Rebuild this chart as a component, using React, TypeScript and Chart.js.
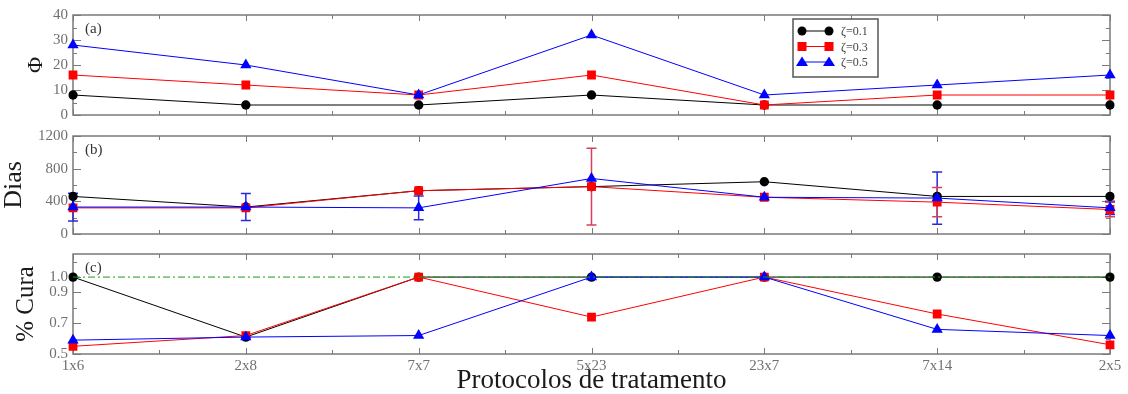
import React, { useEffect, useRef } from 'react';
import { Chart, registerables } from 'chart.js';

Chart.register(...registerables);

// ---------- data ----------
const protocols = ['1x6', '2x8', '7x7', '5x23', '23x7', '7x14', '2x5'];
const seriesLabels = ['ζ=0.1', 'ζ=0.3', 'ζ=0.5'];

const phi01 = [8, 4, 4, 8, 4, 4, 4];
const phi03 = [16, 12, 8, 16, 4, 8, 8];
const phi05 = [28, 20, 8, 32, 8, 12, 16];

const dias01 = [460, 330, 530, 580, 640, 460, 460];
const dias03 = [320, 320, 530, 580, 450, 390, 300];
const dias05 = [330, 330, 320, 680, 450, 440, 320];
const dias03Err = [0, 0, 0, 470, 0, 180, 90];
const dias05Err = [170, 165, 145, 0, 0, 320, 80];

const cura01 = [1.0, 0.61, 1.0, 1.0, 1.0, 1.0, 1.0];
const cura03 = [0.55, 0.62, 1.0, 0.74, 1.0, 0.76, 0.56];
const cura05 = [0.59, 0.61, 0.62, 1.0, 1.0, 0.66, 0.62];
const curaRef = [1, 1, 1, 1, 1, 1, 1];

const phiTicks = [0, 10, 20, 30, 40];
const phiMinor = [5, 15, 25, 35];
const diasTicks = [0, 400, 800, 1200];
const diasMinor = [200, 600, 1000];
const curaTicks = [0.5, 0.7, 0.9, 1.0];
const curaMinor = [0.6, 0.8, 1.1];

// ---------- style ----------
const SERIF = "'Liberation Serif', 'DejaVu Serif', serif";
const BLACK = '#000000';
const RED = '#ff0000';
const BLUE = '#0000ff';
const GREEN = '#1a9a1a';
const FRAME = '#7a7a7a';
const TICKCOL = '#707070';

function lineDs(label: string, data: number[], color: string, style: string, radius: number, extra: any = {}) {
  return {
    label,
    data,
    borderColor: color,
    backgroundColor: color,
    borderWidth: 1,
    pointStyle: style,
    pointRadius: radius,
    pointBackgroundColor: color,
    pointBorderColor: color,
    pointBorderWidth: 0,
    tension: 0,
    ...extra,
  };
}

function seriesSet(d01: number[], d03: number[], d05: number[], e03?: number[], e05?: number[]) {
  return [
    lineDs(seriesLabels[2], d05, BLUE, 'triangle', 6.5, { errors: e05, errColor: '#2a2ad8' }),
    lineDs(seriesLabels[1], d03, RED, 'rect', 6.2, { errors: e03, errColor: '#d84058' }),
    lineDs(seriesLabels[0], d01, BLACK, 'circle', 4.7),
  ];
}

function framePlugin(yMajor: number[], yMinor: number[], label: string) {
  return {
    id: 'frameTicks',
    beforeDatasetsDraw(chart: any) {
      const { ctx, chartArea: a, scales } = chart;
      const xs = scales.x;
      const ys = scales.y;
      ctx.save();
      ctx.strokeStyle = FRAME;
      ctx.lineWidth = 1;
      ctx.beginPath();
      const hTick = (v: number, len: number) => {
        const py = Math.round(ys.getPixelForValue(v)) + 0.5;
        ctx.moveTo(a.left, py);
        ctx.lineTo(a.left + len, py);
        ctx.moveTo(a.right, py);
        ctx.lineTo(a.right - len, py);
      };
      yMajor.forEach((v) => hTick(v, 8));
      yMinor.forEach((v) => hTick(v, 4));
      const vTick = (px: number, len: number) => {
        const x = Math.round(px) + 0.5;
        ctx.moveTo(x, a.top);
        ctx.lineTo(x, a.top + len);
        ctx.moveTo(x, a.bottom);
        ctx.lineTo(x, a.bottom - len);
      };
      for (let i = 0; i < protocols.length; i++) vTick(xs.getPixelForValue(i), 6);
      for (let i = 0; i < protocols.length - 1; i++) {
        vTick((xs.getPixelForValue(i) + xs.getPixelForValue(i + 1)) / 2, 4);
      }
      ctx.stroke();
      ctx.lineWidth = 1.5;
      ctx.strokeRect(a.left, a.top, a.right - a.left, a.bottom - a.top);
      ctx.fillStyle = '#333';
      ctx.font = `15px ${SERIF}`;
      ctx.textBaseline = 'middle';
      ctx.textAlign = 'left';
      ctx.fillText(label, a.left + 12, a.top + 14);
      ctx.restore();
    },
  };
}

const errorBarsPlugin = {
  id: 'errorBars',
  beforeDatasetsDraw(chart: any) {
    const { ctx } = chart;
    const ys = chart.scales.y;
    ctx.save();
    chart.data.datasets.forEach((ds: any, di: number) => {
      if (!ds.errors) return;
      const meta = chart.getDatasetMeta(di);
      ctx.strokeStyle = ds.errColor;
      ctx.lineWidth = 1.5;
      ds.errors.forEach((e: number, j: number) => {
        if (!e) return;
        const pt = meta.data[j];
        const y1 = ys.getPixelForValue(ds.data[j] + e);
        const y2 = ys.getPixelForValue(ds.data[j] - e);
        ctx.beginPath();
        ctx.moveTo(pt.x, y1);
        ctx.lineTo(pt.x, y2);
        ctx.moveTo(pt.x - 5, y1);
        ctx.lineTo(pt.x + 5, y1);
        ctx.moveTo(pt.x - 5, y2);
        ctx.lineTo(pt.x + 5, y2);
        ctx.stroke();
      });
    });
    ctx.restore();
  },
};

const legendPlugin = {
  id: 'boxLegend',
  afterDatasetsDraw(chart: any) {
    const { ctx, chartArea: a } = chart;
    const bx = a.left + 720;
    const by = a.top + 4;
    const bw = 85;
    const bh = 58;
    ctx.save();
    ctx.fillStyle = '#ffffff';
    ctx.fillRect(bx, by, bw, bh);
    ctx.strokeStyle = '#555';
    ctx.lineWidth = 1.5;
    ctx.strokeRect(bx, by, bw, bh);
    const items = [
      { label: seriesLabels[0], color: BLACK, shape: 'circle' },
      { label: seriesLabels[1], color: RED, shape: 'rect' },
      { label: seriesLabels[2], color: BLUE, shape: 'triangle' },
    ];
    items.forEach((it, i) => {
      const cy = by + 12 + i * 15.5;
      const x1 = bx + 9;
      const x2 = bx + 36;
      ctx.strokeStyle = it.color;
      ctx.lineWidth = 1;
      ctx.beginPath();
      ctx.moveTo(x1, cy);
      ctx.lineTo(x2, cy);
      ctx.stroke();
      ctx.fillStyle = it.color;
      [x1, x2].forEach((mx) => {
        ctx.beginPath();
        if (it.shape === 'circle') {
          ctx.arc(mx, cy, 4.5, 0, Math.PI * 2);
        } else if (it.shape === 'rect') {
          ctx.rect(mx - 4.5, cy - 4.5, 9, 9);
        } else {
          ctx.moveTo(mx, cy - 5.5);
          ctx.lineTo(mx + 6, cy + 4);
          ctx.lineTo(mx - 6, cy + 4);
          ctx.closePath();
        }
        ctx.fill();
      });
      ctx.fillStyle = '#444';
      ctx.font = `12px ${SERIF}`;
      ctx.textAlign = 'left';
      ctx.textBaseline = 'middle';
      ctx.fillText(it.label, bx + 48, cy + 1);
    });
    ctx.restore();
  },
};

function yAxis(min: number, max: number, ticks: number[], fmt: (v: number) => string, title: string, titleSize: number, titlePad: number) {
  return {
    type: 'linear',
    min,
    max,
    afterFit: (s: any) => {
      s.width = 73;
      s.paddingTop = 0;
      s.paddingBottom = 0;
    },
    afterBuildTicks: (s: any) => {
      s.ticks = ticks.map((v) => ({ value: v }));
    },
    grid: { display: false, drawTicks: false, tickLength: 0 },
    border: { display: false },
    ticks: {
      color: TICKCOL,
      font: { family: SERIF, size: 15 },
      padding: 5,
      autoSkip: false,
      callback: (v: any) => fmt(Number(v)),
    },
    title: {
      display: true,
      text: title,
      color: '#1a1a1a',
      font: { family: SERIF, size: titleSize, lineHeight: 1 },
      padding: { top: titlePad, bottom: 0 },
    },
  };
}

function xAxis(show: boolean) {
  return {
    type: 'category',
    offset: false,
    display: show,
    afterFit: (s: any) => {
      s.height = show ? 40 : 0;
    },
    grid: { display: false, drawTicks: false, tickLength: 0 },
    border: { display: false },
    ticks: {
      color: TICKCOL,
      font: { family: SERIF, size: 15 },
      padding: 3,
      maxRotation: 0,
      autoSkip: false,
    },
    title: {
      display: show,
      text: 'Protocolos de tratamento',
      color: '#1a1a1a',
      font: { family: SERIF, size: 27, lineHeight: 1 },
      padding: { top: 0, bottom: 0 },
    },
  };
}

function baseOptions(padTop: number, padBottom: number, x: any, y: any) {
  return {
    responsive: false,
    animation: false,
    layout: { padding: { top: padTop, bottom: padBottom, left: 0, right: 18 } },
    plugins: { legend: { display: false }, tooltip: { enabled: false } },
    scales: { x, y },
  };
}

export default function App() {
  const refA = useRef<HTMLCanvasElement>(null);
  const refB = useRef<HTMLCanvasElement>(null);
  const refC = useRef<HTMLCanvasElement>(null);

  useEffect(() => {
    const charts: Chart[] = [];
    charts.push(
      new Chart(refA.current as HTMLCanvasElement, {
        type: 'line',
        data: { labels: protocols, datasets: seriesSet(phi01, phi03, phi05) as any },
        options: baseOptions(15, 11, xAxis(false), yAxis(0, 40, phiTicks, (v) => String(v), 'Φ', 22, 25)) as any,
        plugins: [framePlugin(phiTicks, phiMinor, '(a)'), legendPlugin],
      })
    );
    charts.push(
      new Chart(refB.current as HTMLCanvasElement, {
        type: 'line',
        data: { labels: protocols, datasets: seriesSet(dias01, dias03, dias05, dias03Err, dias05Err) as any },
        options: baseOptions(10, 11, xAxis(false), yAxis(0, 1200, diasTicks, (v) => String(v), 'Dias', 26, 1)) as any,
        plugins: [framePlugin(diasTicks, diasMinor, '(b)'), errorBarsPlugin],
      })
    );
    const curaSets = [
      lineDs('ref', curaRef, GREEN, 'circle', 0, { borderDash: [7, 3, 2, 3] }),
      ...seriesSet(cura01, cura03, cura05),
    ];
    charts.push(
      new Chart(refC.current as HTMLCanvasElement, {
        type: 'line',
        data: { labels: protocols, datasets: curaSets as any },
        options: baseOptions(9, 0, xAxis(true), yAxis(0.5, 1.15, curaTicks, (v) => v.toFixed(1), '% Cura', 25, 14)) as any,
        plugins: [framePlugin(curaTicks, curaMinor, '(c)')],
      })
    );
    return () => charts.forEach((c) => c.destroy());
  }, []);

  return (
    <div style={{ position: 'absolute', left: 0, top: 0, width: 1128, height: 394, background: '#ffffff' }}>
      <canvas ref={refA} width={1128} height={126} style={{ position: 'absolute', left: 0, top: 0 }} />
      <canvas ref={refB} width={1128} height={119} style={{ position: 'absolute', left: 0, top: 126 }} />
      <canvas ref={refC} width={1128} height={149} style={{ position: 'absolute', left: 0, top: 245 }} />
    </div>
  );
}
